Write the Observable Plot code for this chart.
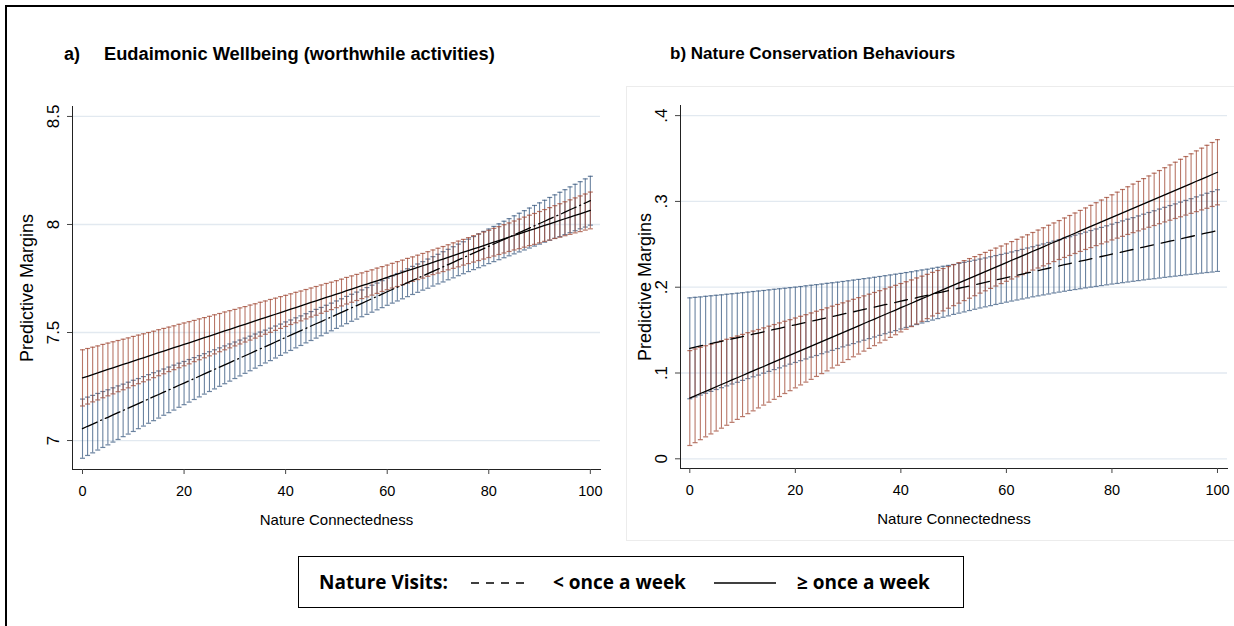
<!DOCTYPE html>
<html><head><meta charset="utf-8">
<script src="https://cdn.jsdelivr.net/npm/d3@7"></script>
<script src="https://cdn.jsdelivr.net/npm/@observablehq/plot@0.6"></script>
<style>
html,body{margin:0;padding:0;background:#fff;overflow:hidden;}
#wrap{position:relative;width:1234px;height:626px;overflow:hidden;background:#fff;font-family:Arial,"Liberation Sans",sans-serif;color:#000;}
#bl{position:absolute;left:5px;top:5px;width:2px;height:640px;background:#000;}
#bt{position:absolute;left:5px;top:5px;width:1240px;height:2px;background:#000;}
#frameB{position:absolute;left:626px;top:86px;width:620px;height:455px;border:1px solid #ececec;box-sizing:border-box;}
.ttl{position:absolute;top:43px;line-height:22px;font-weight:bold;white-space:nowrap;}
#panelA{position:absolute;left:0;top:0;}
#panelB{position:absolute;left:620px;top:0;}
#legend{position:absolute;left:298px;top:556px;width:666px;height:52px;border:1.5px solid #000;box-sizing:border-box;
 font-family:"Liberation Sans Narrow","Arial Narrow","Open Sans",sans-serif;font-weight:bold;font-size:19px;}
#legend span{position:absolute;top:0;line-height:50px;white-space:nowrap;}
#legend svg{position:absolute;top:24px;}
</style></head><body>
<div id="wrap">
 <div id="bl"></div><div id="bt"></div>
 <div id="frameB"></div>
 <div class="ttl" style="left:64px;font-size:18px">a)</div>
 <div class="ttl" style="left:104px;font-size:18.3px">Eudaimonic Wellbeing (worthwhile activities)</div>
 <div class="ttl" style="left:670px;font-size:17px">b) Nature Conservation Behaviours</div>
 <div id="panelA"></div>
 <div id="panelB"></div>
 <div id="legend">
  <span style="left:20px">Nature Visits:</span>
  <svg style="left:172px" width="55" height="4"><line x1="0" y1="2" x2="55" y2="2" stroke="#000" stroke-width="1.3" stroke-dasharray="8,7"/></svg>
  <span style="left:254px">&lt; once a week</span>
  <svg style="left:415px" width="62" height="4"><line x1="0" y1="2" x2="62" y2="2" stroke="#000" stroke-width="1.3"/></svg>
  <span style="left:498px">≥ once a week</span>
 </div>
</div>
<script>
// Nature connectedness values (x)
const natureConnectedness = [0,1,2,3,4,5,6,7,8,9,10,11,12,13,14,15,16,17,18,19,20,21,22,23,24,25,26,27,28,29,30,31,32,33,34,35,36,37,38,39,40,41,42,43,44,45,46,47,48,49,50,51,52,53,54,55,56,57,58,59,60,61,62,63,64,65,66,67,68,69,70,71,72,73,74,75,76,77,78,79,80,81,82,83,84,85,86,87,88,89,90,91,92,93,94,95,96,97,98,99,100];
const xTicks = [0,20,40,60,80,100];

// Panel a) Eudaimonic wellbeing: 95% CI bounds
const aLessLower = [6.918,6.931,6.943,6.956,6.968,6.980,6.993,7.005,7.018,7.030,
7.042,7.055,7.067,7.080,7.092,7.104,7.117,7.129,7.141,7.154,
7.166,7.178,7.190,7.202,7.215,7.227,7.239,7.251,7.263,7.275,
7.287,7.299,7.311,7.323,7.335,7.347,7.359,7.370,7.382,7.394,
7.406,7.417,7.429,7.440,7.452,7.463,7.474,7.485,7.497,7.508,
7.519,7.530,7.541,7.552,7.562,7.573,7.584,7.594,7.605,7.615,
7.626,7.636,7.646,7.656,7.666,7.676,7.686,7.696,7.705,7.715,
7.725,7.734,7.744,7.753,7.763,7.772,7.782,7.791,7.800,7.809,
7.819,7.828,7.837,7.846,7.855,7.864,7.873,7.882,7.891,7.900,
7.909,7.918,7.927,7.936,7.944,7.953,7.962,7.971,7.980,7.988,7.997];
const aLessUpper = [7.192,7.201,7.209,7.218,7.227,7.235,7.244,7.253,7.261,7.270,
7.279,7.287,7.296,7.305,7.314,7.322,7.331,7.340,7.349,7.358,
7.366,7.375,7.384,7.393,7.402,7.411,7.420,7.429,7.438,7.447,
7.456,7.465,7.474,7.483,7.493,7.502,7.511,7.520,7.530,7.539,
7.549,7.558,7.568,7.577,7.587,7.597,7.607,7.616,7.626,7.636,
7.646,7.656,7.667,7.677,7.687,7.697,7.708,7.719,7.729,7.740,
7.751,7.762,7.773,7.784,7.795,7.806,7.817,7.828,7.840,7.851,
7.862,7.874,7.885,7.897,7.909,7.920,7.932,7.944,7.956,7.968,
7.979,7.991,8.003,8.015,8.027,8.040,8.052,8.064,8.076,8.088,
8.100,8.112,8.125,8.137,8.149,8.161,8.174,8.186,8.198,8.211,8.223];
const aMoreLower = [7.160,7.169,7.179,7.188,7.198,7.207,7.216,7.226,7.235,7.244,
7.254,7.263,7.272,7.281,7.291,7.300,7.309,7.319,7.328,7.337,
7.346,7.355,7.365,7.374,7.383,7.392,7.401,7.411,7.420,7.429,
7.438,7.447,7.456,7.465,7.474,7.483,7.492,7.501,7.510,7.519,
7.528,7.537,7.545,7.554,7.563,7.572,7.580,7.589,7.598,7.606,
7.615,7.623,7.632,7.640,7.648,7.657,7.665,7.673,7.681,7.690,
7.698,7.706,7.713,7.721,7.729,7.737,7.745,7.752,7.760,7.768,
7.775,7.782,7.790,7.797,7.804,7.812,7.819,7.826,7.833,7.840,
7.847,7.854,7.861,7.868,7.875,7.882,7.888,7.895,7.902,7.908,
7.915,7.922,7.928,7.935,7.941,7.948,7.954,7.961,7.967,7.974,7.980];
const aMoreUpper = [7.420,7.426,7.432,7.438,7.445,7.451,7.457,7.463,7.469,7.475,
7.482,7.488,7.494,7.500,7.506,7.513,7.519,7.525,7.531,7.538,
7.544,7.550,7.556,7.563,7.569,7.575,7.582,7.588,7.595,7.601,
7.607,7.614,7.620,7.627,7.633,7.640,7.646,7.653,7.659,7.666,
7.672,7.679,7.686,7.692,7.699,7.706,7.713,7.720,7.727,7.733,
7.740,7.747,7.755,7.762,7.769,7.776,7.783,7.790,7.798,7.805,
7.812,7.820,7.828,7.835,7.843,7.850,7.858,7.866,7.874,7.882,
7.890,7.898,7.906,7.915,7.923,7.931,7.939,7.948,7.956,7.965,
7.973,7.982,7.990,7.999,8.007,8.016,8.025,8.034,8.043,8.051,
8.060,8.069,8.078,8.087,8.096,8.105,8.114,8.123,8.132,8.141,8.150];
const aYTicks = [7,7.5,8,8.5];
const aYTickLabels = ["7","7.5","8","8.5"];

// Panel b) Nature conservation behaviours: 95% CI bounds
const bLessLower = [.0700,.0722,.0743,.0764,.0786,.0808,.0829,.0850,.0872,.0892,
.0914,.0935,.0956,.0976,.0998,.1019,.1040,.1060,.1082,.1103,
.1123,.1144,.1164,.1185,.1204,.1225,.1245,.1264,.1285,.1305,
.1325,.1343,.1363,.1382,.1401,.1420,.1439,.1458,.1475,.1494,
.1513,.1531,.1548,.1565,.1583,.1600,.1617,.1634,.1650,.1666,
.1683,.1698,.1712,.1728,.1743,.1758,.1771,.1785,.1799,.1812,
.1826,.1839,.1851,.1863,.1875,.1888,.1899,.1910,.1921,.1933,
.1943,.1953,.1963,.1973,.1982,.1992,.2001,.2009,.2019,.2028,
.2037,.2044,.2053,.2061,.2069,.2077,.2085,.2093,.2099,.2107,
.2115,.2122,.2129,.2136,.2144,.2150,.2157,.2164,.2171,.2177,.2184];
const bLessUpper = [.1876,.1882,.1887,.1894,.1900,.1906,.1911,.1918,.1924,.1930,
.1936,.1943,.1950,.1956,.1962,.1969,.1976,.1982,.1988,.1995,
.2001,.2008,.2016,.2023,.2030,.2037,.2045,.2052,.2059,.2067,
.2075,.2083,.2091,.2100,.2107,.2116,.2125,.2134,.2143,.2152,
.2161,.2171,.2180,.2191,.2201,.2210,.2221,.2232,.2244,.2254,
.2265,.2278,.2290,.2302,.2315,.2328,.2341,.2355,.2369,.2382,
.2396,.2411,.2427,.2441,.2457,.2472,.2489,.2504,.2521,.2537,
.2553,.2571,.2589,.2607,.2624,.2642,.2661,.2679,.2697,.2716,
.2735,.2754,.2773,.2793,.2811,.2831,.2851,.2871,.2891,.2911,
.2931,.2952,.2971,.2992,.3012,.3032,.3053,.3074,.3095,.3115,.3136];
const bMoreLower = [.0155,.0188,.0223,.0256,.0290,.0324,.0357,.0391,.0425,.0459,
.0492,.0526,.0559,.0593,.0626,.0660,.0693,.0726,.0761,.0794,
.0827,.0861,.0894,.0926,.0960,.0993,.1025,.1059,.1091,.1124,
.1157,.1189,.1221,.1255,.1287,.1319,.1352,.1383,.1415,.1446,
.1479,.1510,.1541,.1572,.1603,.1634,.1665,.1695,.1724,.1755,
.1785,.1814,.1844,.1872,.1901,.1931,.1958,.1986,.2014,.2042,
.2069,.2096,.2122,.2147,.2173,.2200,.2224,.2249,.2274,.2299,
.2323,.2347,.2370,.2393,.2417,.2440,.2462,.2485,.2506,.2528,
.2551,.2572,.2593,.2615,.2636,.2657,.2678,.2699,.2719,.2740,
.2761,.2781,.2801,.2821,.2841,.2861,.2881,.2901,.2920,.2941,.2960];
const bMoreUpper = [.1261,.1280,.1299,.1318,.1336,.1356,.1375,.1393,.1413,.1431,
.1450,.1470,.1489,.1507,.1526,.1546,.1565,.1584,.1603,.1622,
.1641,.1661,.1680,.1700,.1720,.1739,.1759,.1779,.1799,.1818,
.1839,.1859,.1879,.1899,.1919,.1939,.1960,.1981,.2001,.2022,
.2043,.2064,.2085,.2108,.2129,.2150,.2173,.2195,.2218,.2241,
.2263,.2286,.2310,.2334,.2357,.2381,.2406,.2430,.2456,.2480,
.2505,.2532,.2558,.2585,.2611,.2638,.2666,.2693,.2722,.2749,
.2777,.2807,.2836,.2865,.2895,.2924,.2954,.2985,.3016,.3046,
.3077,.3108,.3139,.3171,.3202,.3233,.3266,.3297,.3329,.3360,
.3393,.3425,.3457,.3491,.3523,.3555,.3589,.3621,.3654,.3687,.3720];
const bYTicks = [0,0.1,0.2,0.3,0.4];
const bYTickLabels = ["0",".1",".2",".3",".4"];

const blueBar = "#3a5a80", redBar = "#a04a35";
const hline = {draw(ctx, size){ const r = Math.sqrt(size/Math.PI); ctx.moveTo(-r,0); ctx.lineTo(r,0); }};

function rowsOf(lower, upper){
  return natureConnectedness.map((x,i)=>({x, lo: lower[i], hi: upper[i], mid: (lower[i]+upper[i])/2}));
}

function seriesMarks(rows, color){
  return [
    Plot.ruleX(rows, {x:"x", y1:"lo", y2:"hi", stroke: color, strokeOpacity: 0.75, strokeWidth: 1.1}),
    Plot.dot(rows, {x:"x", y:"lo", symbol: hline, r: 2.5, stroke: color, strokeOpacity: 0.75, strokeWidth: 1.2, fill: "none"}),
    Plot.dot(rows, {x:"x", y:"hi", symbol: hline, r: 2.5, stroke: color, strokeOpacity: 0.75, strokeWidth: 1.2, fill: "none"})
  ];
}

function panel(o){
  const less = rowsOf(o.lessLo, o.lessHi), more = rowsOf(o.moreLo, o.moreHi);
  return Plot.plot({
    width: o.width, height: 545,
    marginTop: o.mt, marginBottom: o.mb, marginLeft: o.ml, marginRight: o.mr,
    x: {domain: o.xDomain},
    y: {domain: o.yDomain},
    style: {fontFamily: "Arial, 'Liberation Sans', sans-serif", fontSize: "14px", background: "transparent", color: "#000", overflow: "visible"},
    marks: [
      Plot.gridY(o.yTicks, {stroke: "#e2e9f0", strokeOpacity: 1, strokeWidth: 1.3}),
      ...seriesMarks(less, blueBar),
      ...seriesMarks(more, redBar),
      Plot.line(less, {x:"x", y:"mid", stroke:"#000", strokeWidth: 1.3, strokeDasharray: o.dash}),
      Plot.line(more, {x:"x", y:"mid", stroke:"#000", strokeWidth: 1.3}),
      Plot.frame({anchor: "left", stroke: "#222"}),
      Plot.frame({anchor: "bottom", stroke: "#222"}),
      Plot.axisX(xTicks, {tickSize: 5, tickPadding: 11, fontSize: 14.5, label: null, stroke: "#444"}),
      Plot.axisY(o.yTicks, {tickSize: 5, tickFormat: () => "", label: null, stroke: "#444"}),
      Plot.text(o.yTicks, {y: d => d, text: (d,i) => o.yLabels[i], frameAnchor: "left", dx: -19, rotate: -90, textAnchor: "middle", lineAnchor: "middle", fontSize: 17}),
      Plot.text(["Predictive Margins"], {frameAnchor: "left", dx: o.titleDx, rotate: -90, textAnchor: "middle", lineAnchor: "middle", fontSize: 18}),
      Plot.text(["Nature Connectedness"], {frameAnchor: "bottom", dy: 55, fontSize: 15})
    ]
  });
}

document.getElementById("panelA").append(panel({
  lessLo: aLessLower, lessHi: aLessUpper, moreLo: aMoreLower, moreHi: aMoreUpper,
  width: 620, ml: 72, mr: 20, mt: 106, mb: 76,
  xDomain: [-1.97, 102.0], yDomain: [6.866, 8.546],
  yTicks: aYTicks, yLabels: aYTickLabels, dash: "16,4,1,4", titleDx: -45
}));
document.getElementById("panelB").append(panel({
  lessLo: bLessLower, lessHi: bLessUpper, moreLo: bMoreLower, moreHi: bMoreUpper,
  width: 614, ml: 60, mr: 7, mt: 105, mb: 77,
  xDomain: [-1.762, 101.9], yDomain: [-0.0113, 0.4118],
  yTicks: bYTicks, yLabels: bYTickLabels, dash: "13,8", titleDx: -35
}));
</script>
</body></html>
